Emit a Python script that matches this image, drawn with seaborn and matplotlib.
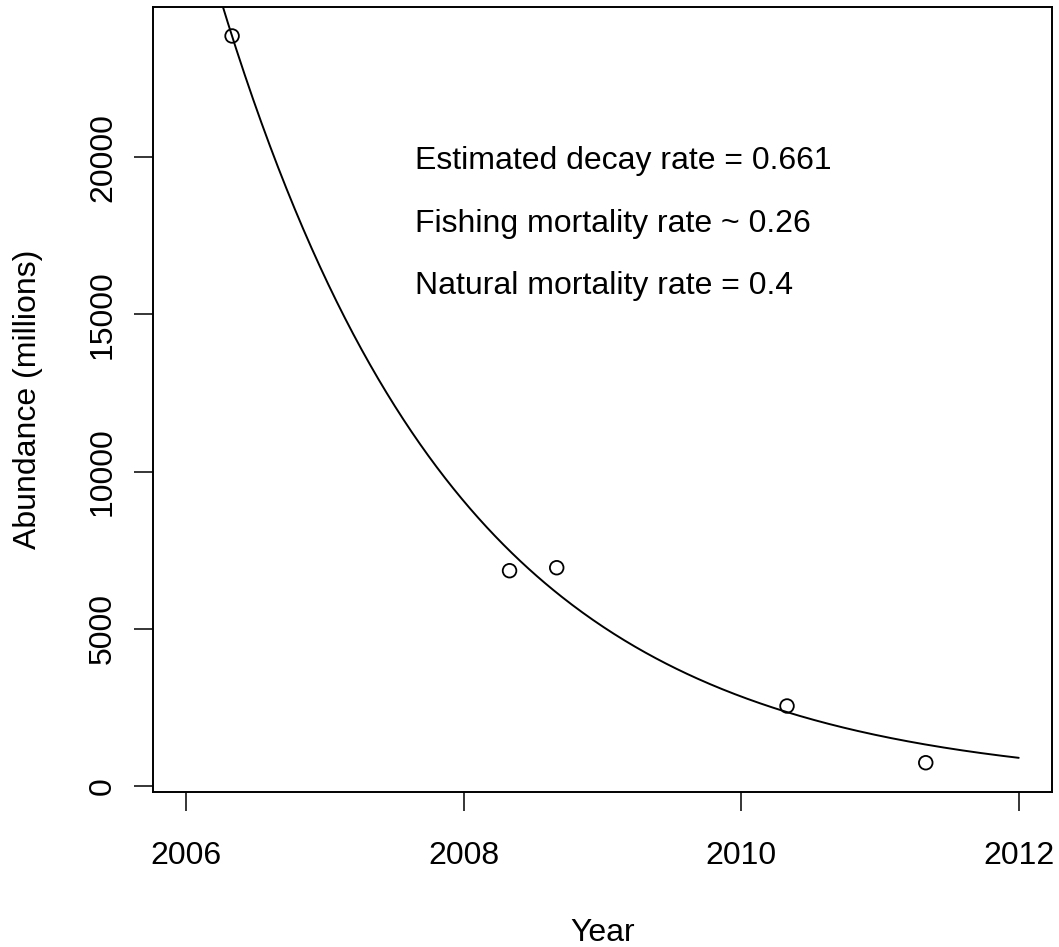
import numpy as np
import pandas as pd
import matplotlib
matplotlib.use("Agg")
import matplotlib.pyplot as plt
import matplotlib.transforms as mtransforms
import seaborn as sns

# ---- data ----
years = [2006.33, 2008.33, 2008.67, 2010.33, 2011.33]
abundance = [23860, 6845, 6940, 2540, 735]
x_ticks = [2006, 2008, 2010, 2012]
y_ticks = [0, 5000, 10000, 15000, 20000]
annotations = ["Estimated decay rate = 0.661",
               "Fishing mortality rate ~ 0.26",
               "Natural mortality rate = 0.4"]
annot_y = [20000, 18000, 16000]
curve_start, curve_end = 2006, 2012

df = pd.DataFrame({"Year": years, "Abundance": abundance})

# nonlinear least-squares fit of N = A * exp(-r (t - 2006)) to the points
t = df["Year"].to_numpy() - curve_start
yv = df["Abundance"].to_numpy(dtype=float)
best = None
for r in np.arange(0.2, 1.2, 0.0002):
    e = np.exp(-r * t)
    A = (yv * e).sum() / (e * e).sum()
    sse = ((yv - A * e) ** 2).sum()
    if best is None or sse < best[0]:
        best = (sse, r, A)
_, r_fit, A_fit = best
curve_t = np.linspace(curve_start, curve_end, 400)
curve_df = pd.DataFrame({"Year": curve_t,
                         "Fit": A_fit * np.exp(-r_fit * (curve_t - curve_start))})

# ---- style ----
sns.set_theme(style="ticks")
plt.rcParams["font.family"] = ["Liberation Sans", "DejaVu Sans"]
plt.rcParams["font.size"] = 23

fig = plt.figure(figsize=(10.59, 9.47), dpi=100)
ax = fig.add_axes([153 / 1059, 1 - 791.8 / 947, 899 / 1059, 784.9 / 947])

sns.lineplot(data=curve_df, x="Year", y="Fit", color="black", linewidth=1.4,
             ax=ax, legend=False)
sns.scatterplot(data=df, x="Year", y="Abundance", marker="o", s=96,
                facecolors="none", edgecolor="black", linewidth=1.3,
                ax=ax, legend=False, zorder=3)
for coll in ax.collections:
    coll.set_facecolor("none")
    coll.set_edgecolor("black")

# R-style 4% padded limits
xr = curve_end - curve_start
ax.set_xlim(curve_start - 0.04 * xr, curve_end + 0.04 * xr)
yr = max(abundance) - min(abundance)
ax.set_ylim(min(abundance) - 0.04 * yr, max(abundance) + 0.04 * yr)

ax.set_xticks(x_ticks)
ax.set_xticklabels([str(v) for v in x_ticks])
ax.set_yticks(y_ticks)
ax.set_yticklabels([str(v) for v in y_ticks])

for sp in ax.spines.values():
    sp.set_visible(True)
    sp.set_linewidth(1.4)
    sp.set_color("black")

ax.tick_params(axis="both", direction="out", length=13.7, width=1.1,
               color="black", labelsize=23, labelcolor="black")
ax.tick_params(axis="x", pad=22)
ax.tick_params(axis="y", pad=11.5, labelrotation=90)
for lab in ax.get_yticklabels():
    lab.set_va("center")
    lab.set_ha("right")

ax.set_xlabel("Year", fontsize=23, color="black", va="baseline")
ax.xaxis.set_label_coords(0.5, (791.8 - 940.7) / 784.9)
ax.set_ylabel("Abundance (millions)", fontsize=23, color="black",
              va="center", ha="center", rotation=90)
ax.yaxis.set_label_coords((28.4 - 153) / 899, 0.5)

trans = mtransforms.offset_copy(ax.transData, fig=fig, y=-8.2, units="points")
for txt, yy in zip(annotations, annot_y):
    ax.text(2007.65, yy, txt, ha="left", va="baseline", fontsize=23,
            color="black", transform=trans)

ax.grid(False)
ax.set_facecolor("white")
fig.patch.set_facecolor("white")
fig.savefig("out.png", dpi=100, facecolor="white")
